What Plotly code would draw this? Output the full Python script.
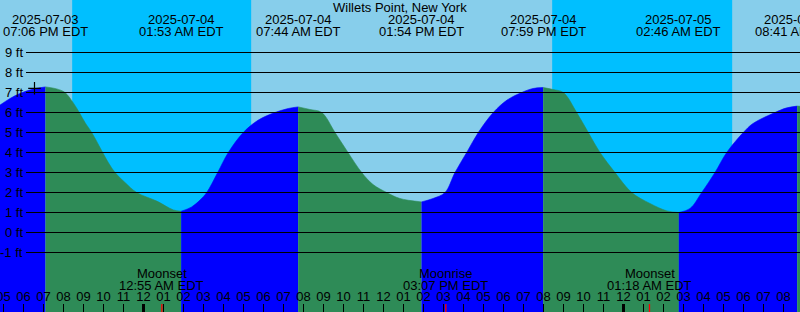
import pandas as pd
import plotly.graph_objects as go

# ---------------- data ----------------
title_text = "Willets Point, New York"
ref_time = pd.Timestamp("2025-07-04 00:00")

# tide extremes (high/low)
tide_times = ["2025-07-03 19:06", "2025-07-04 01:53", "2025-07-04 07:44",
              "2025-07-04 13:54", "2025-07-04 19:59", "2025-07-05 02:46",
              "2025-07-05 08:41"]
tide_ft = [7.28, 1.06, 6.28, 1.53, 7.25, 1.00, 6.32]

# water level (hours after 2025-07-04 00:00)
curve_hours = [-7.175, -6.675, -6.175, -5.525,
               -4.34, -3.925, -3.51, -3.21, -2.925, -2.59, -2.04, -1.76, -1.425,
               -0.925, -0.34, 0.66, 1.49,
               2.41, 2.825, 3.16, 3.71, 4.24, 4.99, 5.74, 6.575, 7.24,
               8.325, 8.91, 9.575, 10.225, 10.91, 11.475, 12.16, 12.825,
               14.475, 15.075, 15.575, 16.16, 16.74, 17.49, 18.175, 18.91, 19.475,
               20.475, 20.99, 21.66, 22.24, 22.825, 23.575, 24.41, 25.325, 26.175,
               27.325, 27.91, 28.575, 29.16, 29.99, 30.475, 31.575, 32.125,
               32.825]
curve_ft = [6.37, 6.70, 6.95, 7.17,
            7.18, 7.00, 6.48, 6.00, 5.50, 5.00, 4.00, 3.50, 3.00,
            2.50, 2.00, 1.57, 1.13,
            1.28, 1.62, 2.00, 3.00, 4.00, 5.00, 5.62, 6.00, 6.20,
            6.15, 6.00, 5.00, 4.00, 3.00, 2.40, 2.00, 1.70,
            1.70, 2.00, 3.00, 4.00, 5.00, 6.00, 6.62, 7.00, 7.20,
            7.15, 7.00, 6.00, 5.00, 4.00, 3.00, 2.00, 1.45, 1.08,
            1.20, 2.00, 3.00, 4.00, 5.00, 5.45, 6.00, 6.22,
            6.31]

moon_times = ["2025-07-04 00:55", "2025-07-04 15:07", "2025-07-05 01:18"]
moon_events = ["Moonset", "Moonrise", "Moonset"]

night_start = ["2025-07-03 20:26", "2025-07-04 20:26"]
night_end = ["2025-07-04 05:23", "2025-07-05 05:26"]

now_time = "2025-07-03 18:33"
now_ft = 7.21

grid_levels = [-1, 0, 1, 2, 3, 4, 5, 6, 7, 8, 9]
hour_ticks = pd.date_range("2025-07-03 17:00", "2025-07-05 08:00", freq="h")
midnights = ["2025-07-04 00:00", "2025-07-05 00:00"]

# ---------------- styling ----------------
W, H = 800, 312
DAY = "#87CEEB"
NIGHT = "#00BFFF"
RISE = "#0000FF"
FALL = "#2E8B57"
FONT = "Liberation Sans, Arial, sans-serif"
FS = 13
X_RANGE = [-7.175, 32.825]
Y_RANGE = [-3.975, 11.625]


def hrs(t):
    return (pd.Timestamp(t) - ref_time).total_seconds() / 3600.0


def ypx(p):
    # pixel row from top -> paper coordinate
    return 1 - p / H


tide_h = [hrs(t) for t in tide_times]
pts = sorted(zip(curve_hours + tide_h, curve_ft + tide_ft))
xs = [p[0] for p in pts]
ys = [p[1] for p in pts]

bounds = sorted(set([0, len(xs) - 1] + [xs.index(h) for h in tide_h]))

fig = go.Figure()

for a, b in zip(bounds[:-1], bounds[1:]):
    sx = xs[a:b + 1]
    sy = ys[a:b + 1]
    color = RISE if sy[-1] > sy[0] else FALL
    fig.add_trace(go.Scatter(x=[sx[0], sx[-1]], y=[Y_RANGE[0] - 1] * 2, mode="lines",
                             line=dict(width=0, color=color), hoverinfo="skip",
                             showlegend=False))
    fig.add_trace(go.Scatter(x=sx, y=sy, mode="lines", fill="tonexty",
                             fillcolor=color,
                             line=dict(width=0.6, color=color, shape="spline",
                                       smoothing=1.0),
                             hoverinfo="skip", showlegend=False))

# current-time marker
fig.add_trace(go.Scatter(x=[hrs(now_time)], y=[now_ft], mode="markers",
                         marker=dict(symbol="cross-thin", size=9,
                                     line=dict(width=1.2, color="black")),
                         hoverinfo="skip", showlegend=False))

shapes = []
for s, e in zip(night_start, night_end):
    shapes.append(dict(type="rect", xref="x", yref="paper", x0=hrs(s), x1=hrs(e),
                       y0=0, y1=1, fillcolor=NIGHT, line=dict(width=0),
                       layer="below"))
for v in grid_levels:
    shapes.append(dict(type="line", xref="paper", yref="y", x0=26 / W, x1=1,
                       y0=v, y1=v, line=dict(color="black", width=1),
                       layer="above"))
for m in midnights:
    shapes.append(dict(type="line", xref="x", yref="paper", x0=hrs(m), x1=hrs(m),
                       y0=0, y1=8 / H, line=dict(color="black", width=3),
                       layer="above"))
for m in moon_times:
    shapes.append(dict(type="line", xref="x", yref="paper", x0=hrs(m), x1=hrs(m),
                       y0=0, y1=8 / H, line=dict(color="#FF0000", width=1.3),
                       layer="above"))

annotations = []
tf = dict(family=FONT, size=FS, color="black")
annotations.append(dict(text=title_text, xref="paper", yref="paper", x=0.5,
                        y=ypx(7.5), xanchor="center", yanchor="middle",
                        showarrow=False, font=tf))
for t in tide_times:
    ts = pd.Timestamp(t)
    h = hrs(t)
    annotations.append(dict(text=ts.strftime("%Y-%m-%d"), xref="x", yref="paper",
                            x=h, y=ypx(19.5), xanchor="center", yanchor="middle",
                            showarrow=False, font=tf))
    annotations.append(dict(text=ts.strftime("%I:%M %p") + " EDT", xref="x",
                            yref="paper", x=h, y=ypx(31.5), xanchor="center",
                            yanchor="middle", showarrow=False, font=tf))
for v in grid_levels:
    annotations.append(dict(text=f"{v} ft", xref="paper", yref="y", x=24.5 / W,
                            y=v, xanchor="right", yanchor="middle",
                            showarrow=False, font=tf))
for t, name in zip(moon_times, moon_events):
    ts = pd.Timestamp(t)
    h = hrs(t)
    annotations.append(dict(text=name, xref="x", yref="paper", x=h, y=ypx(273),
                            xanchor="center", yanchor="middle", showarrow=False,
                            font=tf))
    annotations.append(dict(text=ts.strftime("%I:%M %p") + " EDT", xref="x",
                            yref="paper", x=h, y=ypx(285), xanchor="center",
                            yanchor="middle", showarrow=False, font=tf))

fig.update_layout(
    width=W, height=H, autosize=False,
    margin=dict(l=0, r=0, t=0, b=0, pad=0, autoexpand=False),
    paper_bgcolor=DAY, plot_bgcolor=DAY,
    showlegend=False,
    shapes=shapes, annotations=annotations,
    xaxis=dict(range=X_RANGE, showgrid=False, zeroline=False, showline=False,
               automargin=False,
               tickmode="array", tickvals=[hrs(t) for t in hour_ticks],
               ticktext=[t.strftime("%I") for t in hour_ticks],
               ticks="inside", ticklen=8, tickwidth=1, tickcolor="black",
               ticklabelposition="inside", ticklabeloverflow="allow",
               tickfont=tf, fixedrange=True),
    yaxis=dict(range=Y_RANGE, visible=False, showgrid=False, zeroline=False,
               automargin=False, fixedrange=True),
)

fig.write_html("out.html", config={"displayModeBar": False})
